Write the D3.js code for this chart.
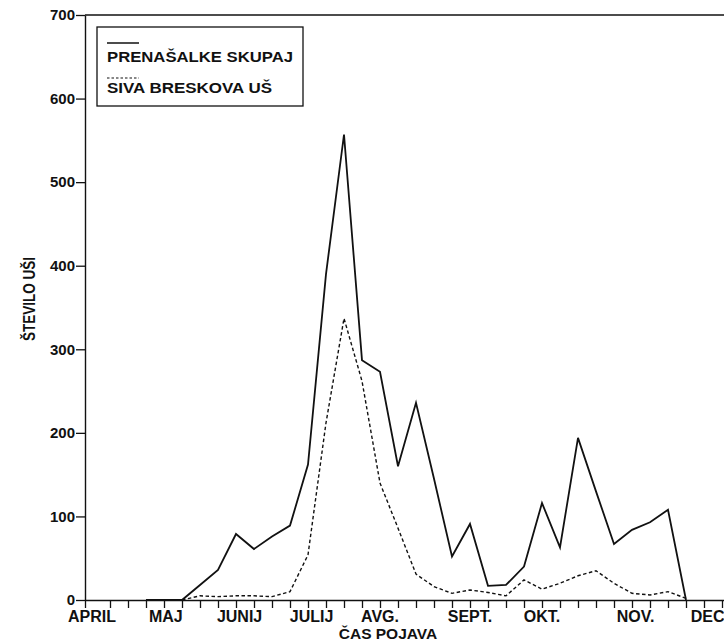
<!DOCTYPE html>
<html>
<head>
<meta charset="utf-8">
<script src="https://cdn.jsdelivr.net/npm/d3@7/dist/d3.min.js"></script>
<style>
  html, body { margin: 0; padding: 0; background: #fff; }
  svg { display: block; }
  text { font-family: "Liberation Sans", Arial, Helvetica, sans-serif; fill: #111; }
</style>
</head>
<body>
<svg id="chart" width="724" height="644"></svg>
<script>
// ---- data ----
const weeks = [2,3,4,5,6,7,8,9,10,11,12,13,14,15,16,17,18,19,20,21,22,23,24,25,26,27,28,29,30,31,32];
const prenasalkeSkupaj = [0,0,0,18,36,79,61,76,89,162,390,557,287,273,160,236,145,52,91,17,18,40,116,63,194,130,67,84,93,108,0];
const sivaBreskovaUs   = [null,null,0,5,4,5,5,4,10,54,212,337,262,140,86,31,16,8,12,9,5,24,13,20,29,35,20,8,6,10,2];
const monthNames = ["APRIL","MAJ","JUNIJ","JULIJ","AVG.","SEPT.","OKT.","NOV.","DEC"];
const monthWeek  = [-1, 3.1, 7.2, 11.2, 15, 20, 24, 29.2, 33.2];
const yTicks = [0,100,200,300,400,500,600,700];
const weekTicks = d3.range(0, 35);
const seriesNames = ["PRENAŠALKE SKUPAJ", "SIVA BRESKOVA UŠ"];

// ---- layout ----
const svg = d3.select("#chart");
const x0 = 85, xEnd = 724;
const x = d3.scaleLinear().domain([0, 34]).range([110, 722]);
const y = d3.scaleLinear().domain([0, 700]).range([600, 15]);
const xStart = x.invert(x0);

// top frame line
svg.append("line")
  .attr("x1", x0).attr("x2", xEnd)
  .attr("y1", y(700)).attr("y2", y(700))
  .attr("stroke", "#111").attr("stroke-width", 1.3);

// y axis
const yAxis = svg.append("g")
  .attr("transform", `translate(${x0},0)`)
  .call(d3.axisLeft(y).tickValues(yTicks).tickSize(9).tickPadding(1).tickSizeOuter(0));
yAxis.select(".domain").attr("stroke", "#111").attr("stroke-width", 1.4);
yAxis.selectAll(".tick line").attr("stroke", "#111").attr("stroke-width", 1.3);
yAxis.selectAll(".tick text")
  .style("font-size", "15px").style("font-weight", "bold").attr("fill", "#111");

// x axis
const xAxis = svg.append("g")
  .attr("transform", `translate(0,${y(0)})`)
  .call(d3.axisBottom(x).tickValues([xStart].concat(weekTicks)).tickFormat("").tickSize(8).tickSizeOuter(0));
xAxis.select(".domain").attr("d", `M${x0},0.5H${xEnd}`).attr("stroke", "#111").attr("stroke-width", 1.4);
xAxis.selectAll(".tick line").attr("stroke", "#111").attr("stroke-width", 1.3);

// month labels
svg.append("g").selectAll("text")
  .data(monthNames)
  .join("text")
  .attr("x", (d, i) => x(monthWeek[i]))
  .attr("y", 622)
  .attr("text-anchor", "middle")
  .style("font-size", "16px").style("font-weight", "bold")
  .text(d => d);

// axis titles
svg.append("text")
  .attr("x", 388).attr("y", 639)
  .attr("text-anchor", "middle")
  .style("font-size", "15.5px").style("font-weight", "bold")
  .text("ČAS POJAVA");

svg.append("text")
  .attr("transform", "translate(35,299) rotate(-90)")
  .attr("text-anchor", "middle")
  .attr("textLength", 84).attr("lengthAdjust", "spacingAndGlyphs")
  .style("font-size", "16px").style("font-weight", "bold")
  .text("ŠTEVILO UŠI");

// lines
const solidData = weeks.map((w, i) => ({w, v: prenasalkeSkupaj[i]}));
const dashData = weeks.map((w, i) => ({w, v: sivaBreskovaUs[i]}));
const line = d3.line().defined(d => d.v !== null).x(d => x(d.w)).y(d => y(d.v));

svg.append("path")
  .datum(solidData)
  .attr("d", line)
  .attr("fill", "none").attr("stroke", "#111").attr("stroke-width", 1.8)
  .attr("stroke-linejoin", "miter");

svg.append("path")
  .datum(dashData)
  .attr("d", line)
  .attr("fill", "none").attr("stroke", "#111").attr("stroke-width", 1.4)
  .attr("stroke-dasharray", "3.5,2.5");

// legend
const lg = svg.append("g");
lg.append("rect")
  .attr("x", 97).attr("y", 27).attr("width", 206).attr("height", 79)
  .attr("fill", "#fff").attr("stroke", "#111").attr("stroke-width", 1.3);
lg.append("line")
  .attr("x1", 107).attr("x2", 139).attr("y1", 43).attr("y2", 43)
  .attr("stroke", "#111").attr("stroke-width", 1.5);
lg.append("text")
  .attr("x", 107).attr("y", 62)
  .attr("textLength", 186).attr("lengthAdjust", "spacingAndGlyphs")
  .style("font-size", "14px").style("font-weight", "bold")
  .text(seriesNames[0]);
lg.append("line")
  .attr("x1", 107).attr("x2", 139).attr("y1", 78).attr("y2", 78)
  .attr("stroke", "#111").attr("stroke-width", 1.2).attr("stroke-dasharray", "2.5,2");
lg.append("text")
  .attr("x", 107).attr("y", 93)
  .attr("textLength", 165).attr("lengthAdjust", "spacingAndGlyphs")
  .style("font-size", "14px").style("font-weight", "bold")
  .text(seriesNames[1]);
</script>
</body>
</html>
